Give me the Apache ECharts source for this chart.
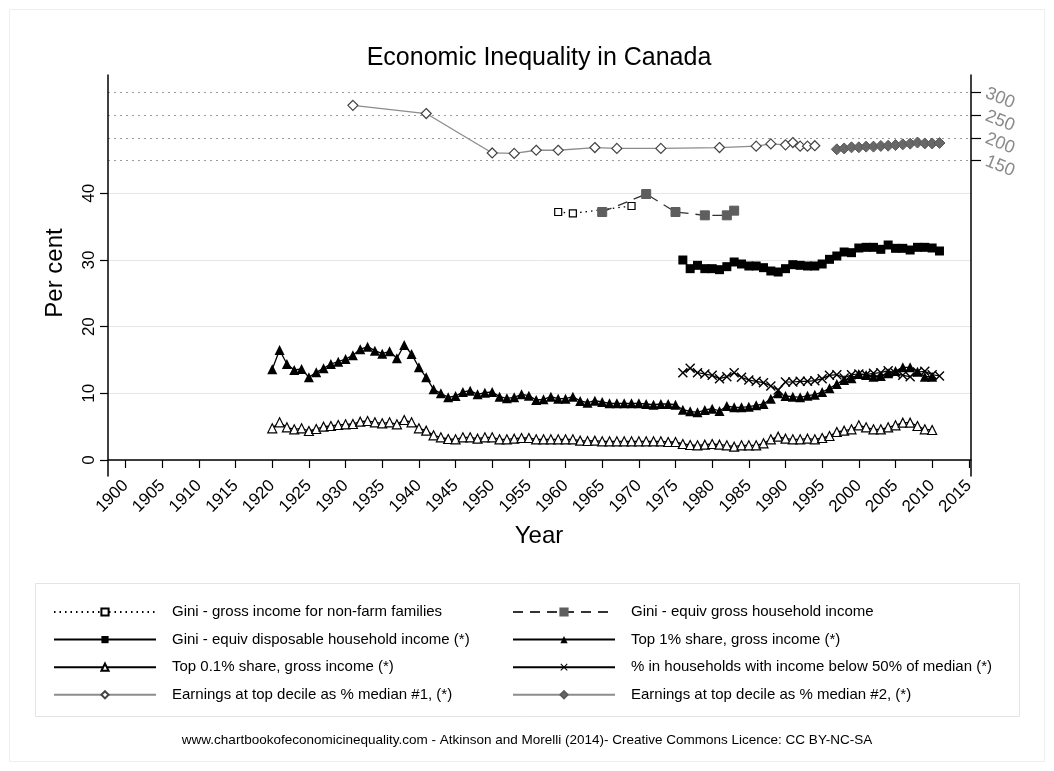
<!DOCTYPE html>
<html lang="en">
<head>
  <meta charset="UTF-8">
  <title>Economic Inequality in Canada</title>
  <style>
    html, body { margin: 0; padding: 0; background: #fff; }
    #main { width: 1054px; height: 771px; }
  </style>
</head>
<body>
<div id="main"></div>
<script src="https://cdn.jsdelivr.net/npm/echarts@6/dist/echarts.min.js"></script>
<script>
// x axis ticks
var yearTicks = [1900, 1905, 1910, 1915, 1920, 1925, 1930, 1935, 1940, 1945, 1950, 1955,
  1960, 1965, 1970, 1975, 1980, 1985, 1990, 1995, 2000, 2005, 2010, 2015];
var leftTicks = [0, 10, 20, 30, 40];
var rightTicks = [150, 200, 250, 300];

// Gini - gross income for non-farm families
var nonFarmYears = [1959, 1961, 1969];
var nonFarm = [37.2, 37.0, 38.1];

// Gini - equiv gross household income
var grossYears = [1965, 1971, 1975, 1979, 1982, 1983];
var gross = [37.2, 39.9, 37.2, 36.7, 36.7, 37.4];

// Gini - equiv disposable household income, 1976-2011
var dispStart = 1976;
var disp = [30.0, 28.7, 29.2, 28.7, 28.7, 28.55, 29.0, 29.7, 29.4, 29.1, 29.1, 28.85, 28.35, 28.2,
  28.7, 29.3, 29.2, 29.1, 29.1, 29.4, 30.1, 30.6, 31.2, 31.1, 31.8, 31.9, 31.9, 31.6, 32.25,
  31.75, 31.75, 31.5, 31.9, 31.9, 31.8, 31.35];

// Top 1% share, 1920-2010
var top1Start = 1920;
var top1 = [13.6, 16.5, 14.4, 13.5, 13.65, 12.4, 13.15, 13.75, 14.4, 14.75, 15.15, 15.7, 16.6,
  17.0, 16.4, 15.95, 16.3, 15.25, 17.25, 15.9, 13.9,
  12.4, 10.6, 10.0, 9.4, 9.6, 10.2, 10.4, 9.85, 10.1, 10.2, 9.5, 9.25, 9.4, 9.85, 9.65, 9.0,
  9.1, 9.5, 9.2, 9.2, 9.5, 8.85, 8.6, 8.9, 8.7, 8.5, 8.5, 8.5, 8.5, 8.5, 8.4, 8.3, 8.4, 8.4, 8.3,
  7.55, 7.3, 7.15, 7.5, 7.7, 7.35, 8.1, 7.9, 7.9, 8.0, 8.2, 8.4, 9.2, 10.0, 9.6, 9.5, 9.4, 9.65,
  9.8, 10.2, 10.75, 11.4, 12.0, 12.25, 12.9, 12.75, 12.5, 12.6, 13.0, 13.35, 13.9, 13.9, 13.25,
  12.5, 12.5];

// Top 0.1% share, 1920-2010
var top01Start = 1920;
var top01 = [4.75, 5.65, 4.9, 4.6, 4.75, 4.35, 4.65, 5.0, 5.1, 5.25, 5.35, 5.4, 5.75, 5.85, 5.65,
  5.5, 5.65, 5.35, 6.0, 5.65, 4.75,
  4.4, 3.7, 3.4, 3.15, 3.1, 3.4, 3.4, 3.2, 3.4, 3.4, 3.1, 3.1, 3.2, 3.3, 3.3, 3.1, 3.1, 3.1, 3.1,
  3.1, 3.1, 2.9, 2.85, 2.9, 2.8, 2.8, 2.8, 2.8, 2.8, 2.8, 2.8, 2.8, 2.8, 2.7, 2.7,
  2.4, 2.25, 2.2, 2.3, 2.4, 2.3, 2.2, 2.0, 2.2, 2.2, 2.2, 2.5, 3.1, 3.5, 3.2, 3.1, 3.1, 3.2, 3.1,
  3.3, 3.6, 4.2, 4.4, 4.6, 5.2, 4.9, 4.6, 4.6, 4.9, 5.2, 5.6, 5.6, 5.1, 4.6, 4.5];

// % in households below 50% of median, 1976-2011
var povStart = 1976;
var pov = [13.1, 13.75, 13.1, 12.9, 12.7, 12.2, 12.5, 13.1, 12.4, 12.0, 11.8, 11.6, 11.1, 10.5,
  11.7, 11.7, 11.8, 11.8, 11.9, 12.2, 12.7, 12.8, 12.3, 12.8, 12.9, 12.8, 13.0, 13.1, 13.4, 13.0,
  12.7, 12.5, 13.2, 13.3, 12.8, 12.6];

// Earnings at top decile as % median #1 (right axis)
var earn1Years = [1931, 1941, 1950, 1953, 1956, 1959, 1964, 1967, 1973, 1981, 1986, 1988, 1990,
  1991, 1992, 1993, 1994];
var earn1 = [272, 254, 167, 166, 173, 173, 179, 177, 177, 179, 182, 187, 185, 190, 182, 182, 183];

// Earnings at top decile as % median #2 (right axis), 1997-2011
var earn2Start = 1997;
var earn2 = [175, 177, 179.5, 179.5, 181, 181, 182.5, 183, 184.5, 186, 187.5, 190, 188, 188, 189];

function pairs(years, vals) {
  var out = [];
  for (var i = 0; i < vals.length; i++) out.push([years[i], vals[i]]);
  return out;
}
function run(start, vals) {
  var out = [];
  for (var i = 0; i < vals.length; i++) out.push([start + i, vals[i]]);
  return out;
}
function plain(v) { return String(v); }

var FONT = 'Liberation Sans, Arial, Helvetica, sans-serif';
var xMark = 'path://M0,1 L1,0 L5,4 L9,0 L10,1 L6,5 L10,9 L9,10 L5,6 L1,10 L0,9 L4,5 Z';

var names = [
  'Gini - gross income for non-farm families',
  'Gini - equiv gross household income',
  'Gini - equiv disposable household income (*)',
  'Top 1% share, gross income (*)',
  'Top 0.1% share, gross income (*)',
  '% in households with income below 50% of median (*)',
  'Earnings at top decile as % median #1, (*)',
  'Earnings at top decile as % median #2, (*)'
];

var myChart = echarts.init(document.getElementById('main'));

var option = {
  animation: false,
  textStyle: { fontFamily: FONT },
  grid: { left: 108, right: 83, top: 75, bottom: 295 },
  xAxis: {
    type: 'value',
    min: 1897.6,
    max: 2015.3,
    axisLine: { show: true, lineStyle: { color: '#000', width: 1.5 } },
    axisTick: { show: true, length: 8, customValues: yearTicks, lineStyle: { color: '#000', width: 1.2 } },
    axisLabel: { customValues: yearTicks, formatter: plain, rotate: 45, fontSize: 17, color: '#000', margin: 7, fontFamily: FONT },
    splitLine: { show: false }
  },
  yAxis: [
    {
      type: 'value',
      position: 'left',
      min: -2.4,
      max: 57.75,
      axisLine: { show: true, lineStyle: { color: '#000', width: 1.5 } },
      axisTick: { show: true, length: 8, customValues: leftTicks, lineStyle: { color: '#000', width: 1.2 } },
      axisLabel: { customValues: leftTicks, formatter: plain, rotate: 90, fontSize: 17, color: '#000', margin: 10, fontFamily: FONT },
      splitLine: { show: true, lineStyle: { color: '#e6e6e6', width: 1 } }
    },
    {
      type: 'value',
      position: 'right',
      min: -545.6,
      max: 339,
      axisLine: { show: true, lineStyle: { color: '#000', width: 1.5 } },
      axisTick: { show: true, length: 10, customValues: rightTicks, lineStyle: { color: '#000', width: 1.2 } },
      axisLabel: { customValues: rightTicks, formatter: plain, rotate: -22, fontSize: 18, color: '#8a8a8a', margin: 15, fontFamily: FONT },
      splitLine: { show: true, lineStyle: { color: '#9a9a9a', width: 1, type: [2, 4] } }
    }
  ],
  legend: [
    {
      data: [names[0], names[2], names[4], names[6]],
      orient: 'vertical',
      left: 53,
      top: 603,
      padding: 0,
      itemWidth: 102,
      itemHeight: 9,
      itemGap: 9.6,
      selectedMode: false,
      textStyle: { fontSize: 15, color: '#000', fontFamily: FONT, lineHeight: 18, padding: [0, 0, 0, 11] }
    },
    {
      data: [names[1], names[3], names[5], names[7]],
      orient: 'vertical',
      left: 512,
      top: 603,
      padding: 0,
      itemWidth: 102,
      itemHeight: 9,
      itemGap: 9.6,
      selectedMode: false,
      textStyle: { fontSize: 15, color: '#000', fontFamily: FONT, lineHeight: 18, padding: [0, 0, 0, 11] }
    }
  ],
  graphic: [
    { type: 'rect', shape: { x: 9.5, y: 9.5, width: 1035, height: 752 }, style: { fill: 'none', stroke: '#eeeeee', lineWidth: 1 }, silent: true },
    { type: 'rect', shape: { x: 35.5, y: 583.5, width: 984, height: 133 }, style: { fill: 'none', stroke: '#e4e4e4', lineWidth: 1 }, silent: true },
    { type: 'text', x: 539, y: 58, style: { text: 'Economic Inequality in Canada', font: '25px ' + FONT, fill: '#000', textAlign: 'center', textVerticalAlign: 'middle' } },
    { type: 'text', x: 55, y: 273, rotation: Math.PI / 2, style: { text: 'Per cent', font: '24px ' + FONT, fill: '#000', textAlign: 'center', textVerticalAlign: 'middle' } },
    { type: 'text', x: 539, y: 536, style: { text: 'Year', font: '24px ' + FONT, fill: '#000', textAlign: 'center', textVerticalAlign: 'middle' } },
    { type: 'text', x: 527, y: 740, style: { text: 'www.chartbookofeconomicinequality.com - Atkinson and Morelli (2014)- Creative Commons Licence: CC BY-NC-SA', font: '13.5px ' + FONT, fill: '#000', textAlign: 'center', textVerticalAlign: 'middle' } }
  ],
  series: [
    {
      name: names[6], type: 'line', yAxisIndex: 1, data: pairs(earn1Years, earn1),
      symbol: 'diamond', symbolSize: 10,
      itemStyle: { color: '#fff', borderColor: '#444', borderWidth: 1.2 },
      lineStyle: { color: '#8c8c8c', width: 1.3 }
    },
    {
      name: names[7], type: 'line', yAxisIndex: 1, data: run(earn2Start, earn2),
      symbol: 'diamond', symbolSize: 11,
      itemStyle: { color: '#686868', borderColor: '#5a5a5a', borderWidth: 1 },
      lineStyle: { color: '#8c8c8c', width: 1.3 }
    },
    {
      name: names[0], type: 'line', data: pairs(nonFarmYears, nonFarm),
      symbol: 'rect', symbolSize: 7,
      itemStyle: { color: '#fff', borderColor: '#000', borderWidth: 1.2 },
      lineStyle: { color: '#000', width: 1.3, type: [1.5, 4] }
    },
    {
      name: names[1], type: 'line', data: pairs(grossYears, gross),
      symbol: 'rect', symbolSize: 9,
      itemStyle: { color: '#5e5e5e', borderColor: '#5e5e5e', borderWidth: 1 },
      lineStyle: { color: '#333', width: 1.3, type: [10, 7] }
    },
    {
      name: names[2], type: 'line', data: run(dispStart, disp),
      symbol: 'rect', symbolSize: 9,
      itemStyle: { color: '#000' },
      lineStyle: { color: '#000', width: 1.3 }
    },
    {
      name: names[5], type: 'line', data: run(povStart, pov),
      symbol: xMark, symbolSize: 10,
      itemStyle: { color: '#000' },
      lineStyle: { color: '#000', width: 1.2 }
    },
    {
      name: names[3], type: 'line', data: run(top1Start, top1),
      symbol: 'triangle', symbolSize: 10,
      itemStyle: { color: '#000' },
      lineStyle: { color: '#000', width: 1.3 }
    },
    {
      name: names[4], type: 'line', data: run(top01Start, top01),
      symbol: 'triangle', symbolSize: 9,
      itemStyle: { color: '#fff', borderColor: '#000', borderWidth: 1.2 },
      lineStyle: { color: '#000', width: 1.3 }
    }
  ]
};

myChart.setOption(option);
</script>
</body>
</html>
